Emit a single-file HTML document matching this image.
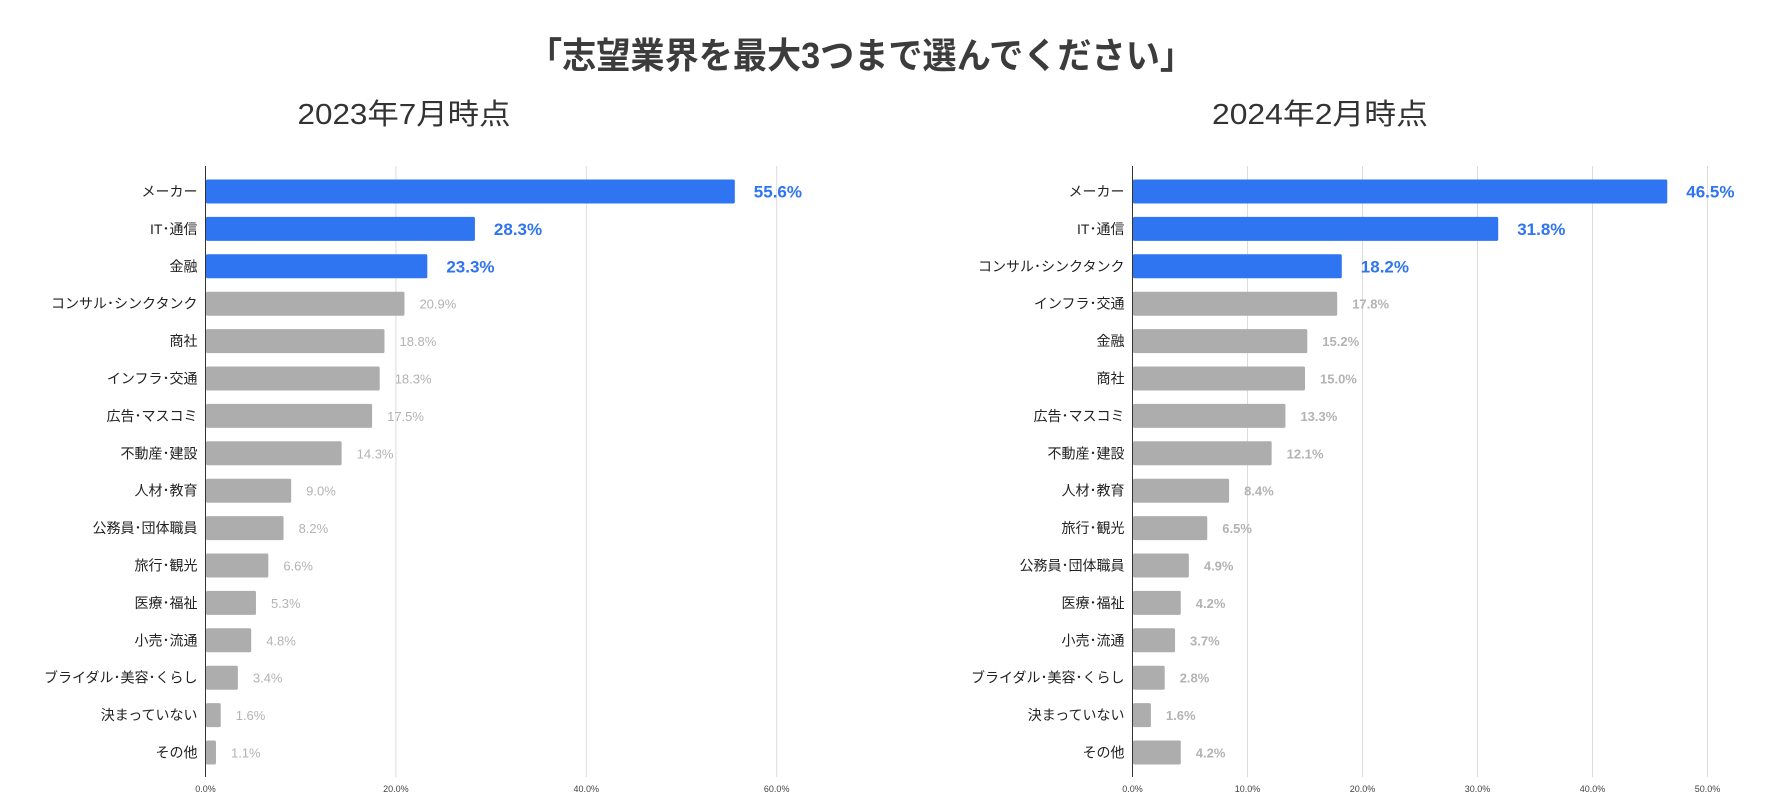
<!DOCTYPE html>
<html><head><meta charset="utf-8">
<style>
html,body{margin:0;padding:0;background:#fff;}
svg{display:block;font-family:"Liberation Sans","Noto Sans CJK JP",sans-serif;}
</style></head>
<body>
<svg id="s" width="1779" height="812" viewBox="0 0 1779 812" xmlns="http://www.w3.org/2000/svg">
<text x="861" y="68" text-anchor="middle" font-size="36" font-weight="bold" fill="#3c3c3c" textLength="666" lengthAdjust="spacingAndGlyphs">「志望業界を最大3つまで選んでください」</text>
<text x="404" y="124" text-anchor="middle" font-size="29" fill="#333" textLength="213" lengthAdjust="spacingAndGlyphs">2023年7月時点</text>
<text x="1320" y="124" text-anchor="middle" font-size="29" fill="#333" textLength="216" lengthAdjust="spacingAndGlyphs">2024年2月時点</text>
<g id="left"></g>
<g id="right"></g>
</svg>
<script>
const leftCategories = ["メーカー","IT･通信","金融","コンサル･シンクタンク","商社","インフラ･交通","広告･マスコミ","不動産･建設","人材･教育","公務員･団体職員","旅行･観光","医療･福祉","小売･流通","ブライダル･美容･くらし","決まっていない","その他"];
const leftValues = [55.6,28.3,23.3,20.9,18.8,18.3,17.5,14.3,9.0,8.2,6.6,5.3,4.8,3.4,1.6,1.1];
const leftTicks = [0,20,40,60];
const rightCategories = ["メーカー","IT･通信","コンサル･シンクタンク","インフラ･交通","金融","商社","広告･マスコミ","不動産･建設","人材･教育","旅行･観光","公務員･団体職員","医療･福祉","小売･流通","ブライダル･美容･くらし","決まっていない","その他"];
const rightValues = [46.5,31.8,18.2,17.8,15.2,15.0,13.3,12.1,8.4,6.5,4.9,4.2,3.7,2.8,1.6,4.2];
const rightTicks = [0,10,20,30,40,50];
const highlightCount = 3;

const NS = "http://www.w3.org/2000/svg";
function mk(tag, attrs, parent){
  const e = document.createElementNS(NS, tag);
  for (const k in attrs) e.setAttribute(k, attrs[k]);
  parent.appendChild(e);
  return e;
}
function drawChart(g, cats, vals, ticks, x0, pxPerPct, grayBold, prefix){
  const top = 166, bottom = 777, y0 = 191.5, step = 37.4, bh = 24;
  const xs = v => x0 + v * pxPerPct;
  const ys = i => y0 + i * step;
  ticks.forEach(t => {
    if (t > 0) {
      const gl = mk("line", {x1: xs(t), x2: xs(t), y1: top, y2: bottom, stroke: "#dcdcdc", "stroke-width": 1}, g);
      
      
    }
    const tl = mk("text", {x: xs(t), y: 792, "text-anchor": "middle", "font-size": 9, fill: "#444"}, g);
    tl.textContent = t.toFixed(1) + "%";
    
    
  });
  const ax = mk("line", {x1: x0, x2: x0, y1: top, y2: bottom, stroke: "#333", "stroke-width": 1}, g);
  
  
  cats.forEach((c, i) => {
    const hi = i < highlightCount;
    const cy = ys(i);
    const r = mk("rect", {x: x0 + 0.5, y: cy - bh/2, width: Math.max(0, xs(vals[i]) - x0 - 0.5), height: bh, rx: 1.5, fill: hi ? "#2f74f0" : "#adadad"}, g);
    
    
    const lb = mk("text", {x: x0 - 8, y: cy + 5, "text-anchor": "end", "font-size": 14, fill: "#222"}, g);
    lb.textContent = c;
    
    
    const vl = mk("text", {x: xs(vals[i]) + (hi ? 19 : 15), y: cy + (hi ? 6 : 5), "font-size": hi ? 17 : 13, "font-weight": (hi || grayBold) ? "bold" : "normal", fill: hi ? "#2f74f0" : "#b3b3b3"}, g);
    vl.textContent = vals[i].toFixed(1) + "%";
    
    
  });
}
drawChart(document.getElementById("left"), leftCategories, leftValues, leftTicks, 205.5, 9.52, false, "left");
drawChart(document.getElementById("right"), rightCategories, rightValues, rightTicks, 1132.5, 11.5, true, "right");
</script>
</body></html>
